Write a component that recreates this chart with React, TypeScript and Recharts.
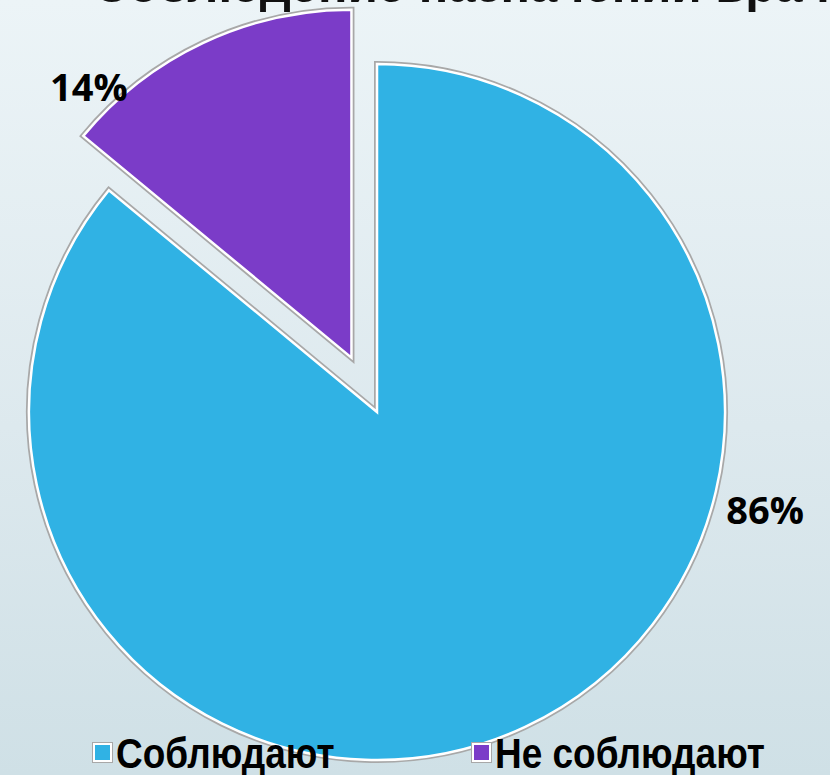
import { PieChart, Pie, Cell } from "recharts";

// данные диаграммы
const categories = ["Соблюдают", "Не соблюдают"];
const values = [86, 14];
const colors = ["#30B2E4", "#7B3CC8"];
const title = "Соблюдение назначений врача";

const data = categories.map((name, i) => ({ name, value: values[i] }));

// геометрия
const CX = 377;
const CY = 412;
const R = 348;
const EXPLODE = 60; // вынос второго сектора
const START = 90;
const END = -270;

// середина выносимого сектора (градусы, против часовой)
const total = values.reduce((a, b) => a + b, 0);
const before = values.slice(0, 1).reduce((a, b) => a + b, 0);
const midDeg = START - ((before + values[1] / 2) / total) * 360;
const midRad = (midDeg * Math.PI) / 180;
const CX2 = CX + EXPLODE * Math.cos(midRad);
const CY2 = CY - EXPLODE * Math.sin(midRad);

// расположение подписей: угол и отступ от края
const labelAngle = [-14, 134];
const labelGap = [52, 30];

const RAD = Math.PI / 180;

function renderLabel(props: any) {
  const { cx, cy, outerRadius, percent, index } = props;
  const a = labelAngle[index] * RAD;
  const r = outerRadius + labelGap[index];
  const x = cx + r * Math.cos(a);
  const y = cy - r * Math.sin(a);
  return (
    <text
      x={x}
      y={y}
      textAnchor="middle"
      dominantBaseline="central"
      fontFamily="'Open Sans', sans-serif"
      fontWeight={700}
      fontSize={38}
      fill="#000"
    >
      {Math.round(percent * 100)}%
    </text>
  );
}

function Layer({ cx, cy, show, stroke, width, label }: any) {
  return (
    <Pie
      data={data}
      dataKey="value"
      nameKey="name"
      cx={cx}
      cy={cy}
      outerRadius={R}
      startAngle={START}
      endAngle={END}
      isAnimationActive={false}
      legendType="none"
      label={label ? (p: any) => (p.index === show ? renderLabel(p) : null) : false}
      labelLine={false}
    >
      {data.map((d, i) => (
        <Cell
          key={d.name}
          fill={i === show ? colors[i] : "none"}
          stroke={i === show ? stroke : "none"}
          strokeWidth={width}
          strokeLinejoin="miter"
        />
      ))}
    </Pie>
  );
}

export default function App() {
  return (
    <div
      style={{
        position: "absolute",
        left: 0,
        top: 0,
        width: 830,
        height: 775,
        overflow: "hidden",
        background: "linear-gradient(180deg, #ecf4f7 0%, #dde9ee 55%, #cfe0e6 100%)",
      }}
    >
      <div
        style={{
          position: "absolute",
          left: 93,
          top: -39,
          whiteSpace: "nowrap",
          fontFamily: "'Liberation Sans', Arial, sans-serif",
          fontWeight: 700,
          fontSize: 49,
          lineHeight: "49px",
          color: "#111",
        }}
      >
        {title}
      </div>
      <div style={{ position: "absolute", left: 0, top: 0 }}>
        <PieChart width={830} height={775} margin={{ top: 0, right: 0, bottom: 0, left: 0 }}>
          {Layer({ cx: CX, cy: CY, show: 0, stroke: "#a8a8a8", width: 6, label: false })}
          {Layer({ cx: CX, cy: CY, show: 0, stroke: "#ffffff", width: 2.5, label: true })}
          {Layer({ cx: CX2, cy: CY2, show: 1, stroke: "#a8a8a8", width: 6, label: false })}
          {Layer({ cx: CX2, cy: CY2, show: 1, stroke: "#ffffff", width: 2.5, label: true })}
        </PieChart>
      </div>
      {categories.map((name, i) => (
        <div
          key={name}
          style={{
            position: "absolute",
            left: i === 0 ? 93 : 472,
            top: 733,
            display: "flex",
            alignItems: "flex-start",
            whiteSpace: "nowrap",
          }}
        >
          <span
            style={{
              display: "inline-block",
              width: 15,
              height: 15,
              marginTop: 10,
              marginRight: 4,
              background: colors[i],
              border: "2px solid #fff",
              outline: "1px solid #a8a8a8",
            }}
          />
          <span
            style={{
              display: "inline-block",
              fontFamily: "'Liberation Sans', Arial, sans-serif",
              fontWeight: 700,
              fontSize: 42,
              lineHeight: "42px",
              color: "#000",
              transform: "scaleX(0.88)",
              transformOrigin: "left center",
            }}
          >
            {name}
          </span>
        </div>
      ))}
    </div>
  );
}
